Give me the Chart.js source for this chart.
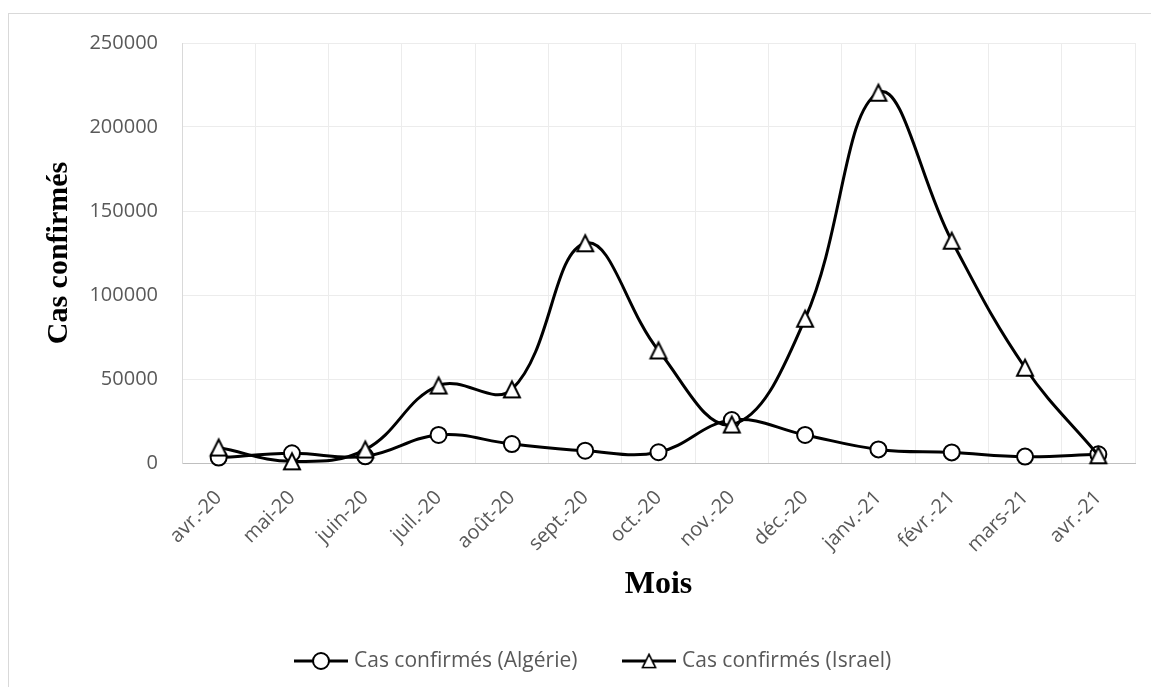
<!DOCTYPE html>
<html>
<head>
<meta charset="utf-8">
<script src="https://cdn.jsdelivr.net/npm/chart.js@4.4.0/dist/chart.umd.min.js"></script>
<style>
  html, body { margin: 0; padding: 0; background: #fff; }
  #wrap { position: relative; width: 1151px; height: 687px; overflow: hidden; }
  #frame { position: absolute; left: 8px; top: 13px; width: 1200px; height: 720px; border: 1px solid #d9d9d9; box-sizing: border-box; }
  #c { position: absolute; left: 0; top: 0; }
</style>
</head>
<body>
<div id="wrap">
  <div id="frame"></div>
  <canvas id="c" width="1151" height="687"></canvas>
</div>
<script>
// Monthly confirmed COVID-19 cases
const months = ['avr.-20', 'mai-20', 'juin-20', 'juil.-20', 'août-20', 'sept.-20', 'oct.-20',
                'nov.-20', 'déc.-20', 'janv.-21', 'févr.-21', 'mars-21', 'avr.-21'];
const algerie = [3200, 5800, 4000, 16700, 11300, 7300, 6400, 25600, 16700, 8100, 6300, 3800, 5200];
const israel  = [9200, 1000, 8000, 46100, 43800, 130800, 67000, 22900, 85900, 220400, 132300, 56700, 4600];
const yTicks  = [0, 50000, 100000, 150000, 200000, 250000];

const seriesNames = ['Cas confirmés (Algérie)', 'Cas confirmés (Israel)'];

const TICK_FONT = { family: 'Open Sans', size: 20 };
const TICK_COLOR = '#595959';
const TITLE_FONT = { family: 'Liberation Serif', weight: 'bold' };

// Open triangle marker (white fill, black outline)
function triangleMarker(size, lw) {
  const c = document.createElement('canvas');
  c.width = size + 4;
  c.height = size + 4;
  const g = c.getContext('2d');
  const m = 2 + lw / 2;
  g.beginPath();
  g.moveTo(c.width / 2, m);
  g.lineTo(c.width - m, c.height - m);
  g.lineTo(m, c.height - m);
  g.closePath();
  g.fillStyle = '#fff';
  g.fill();
  g.lineWidth = lw;
  g.strokeStyle = '#000';
  g.lineJoin = 'miter';
  g.stroke();
  return c;
}
const triangle = triangleMarker(18, 2);

// Legend drawn as line + marker swatches followed by the series name
const seriesKey = {
  id: 'seriesKey',
  afterDraw(chart, args, opts) {
    const ctx = chart.ctx;
    ctx.save();
    opts.entries.forEach(e => {
      const ds = chart.data.datasets[e.dataset];
      const y = opts.y;
      ctx.strokeStyle = ds.borderColor;
      ctx.lineWidth = ds.borderWidth;
      ctx.beginPath();
      ctx.moveTo(e.x, y);
      ctx.lineTo(e.x + opts.lineLength, y);
      ctx.stroke();
      const cx = e.x + opts.lineLength / 2;
      if (ds.pointStyle === 'circle') {
        ctx.beginPath();
        ctx.arc(cx, y, opts.markerRadius, 0, Math.PI * 2);
        ctx.fillStyle = '#fff';
        ctx.fill();
        ctx.lineWidth = 2;
        ctx.stroke();
      } else {
        const img = ds.pointStyle;
        const s = opts.markerRadius * 2 + 2;
        ctx.drawImage(img, cx - s / 2, y - s / 2, s, s);
      }
      ctx.fillStyle = TICK_COLOR;
      ctx.font = `${opts.fontSize}px "${TICK_FONT.family}"`;
      ctx.textBaseline = 'middle';
      ctx.textAlign = 'left';
      ctx.fillText(ds.label, e.x + opts.lineLength + opts.gap, y);
    });
    ctx.restore();
  }
};

const ctx = document.getElementById('c').getContext('2d');
new Chart(ctx, {
  type: 'line',
  data: {
    labels: months,
    datasets: [
      {
        label: seriesNames[0],
        data: algerie,
        borderColor: '#000',
        borderWidth: 3,
        tension: 0.4,
        pointStyle: 'circle',
        pointRadius: 8,
        pointHoverRadius: 8,
        pointBackgroundColor: '#fff',
        pointBorderColor: '#000',
        pointBorderWidth: 2,
        clip: false,
        order: 1
      },
      {
        label: seriesNames[1],
        data: israel,
        borderColor: '#000',
        borderWidth: 3,
        tension: 0.4,
        pointStyle: triangle,
        pointRadius: 9,
        pointHoverRadius: 9,
        pointBackgroundColor: '#fff',
        pointBorderColor: '#000',
        clip: false,
        order: 0
      }
    ]
  },
  options: {
    responsive: false,
    animation: false,
    devicePixelRatio: 1,
    layout: { padding: { top: 43, right: 16, left: 0, bottom: 0 } },
    plugins: {
      legend: { display: false },
      tooltip: { enabled: false },
      seriesKey: {
        y: 661,
        lineLength: 54,
        gap: 6,
        markerRadius: 8,
        fontSize: 21,
        entries: [ { dataset: 0, x: 294 }, { dataset: 1, x: 622 } ]
      }
    },
    scales: {
      x: {
        offset: true,
        grid: { offset: true, color: '#ececec', drawTicks: false },
        border: { color: '#bfbfbf', width: 1 },
        ticks: { color: TICK_COLOR, font: TICK_FONT, minRotation: 45, maxRotation: 45, autoSkip: false, padding: 23 },
        title: {
          display: true, text: 'Mois', color: '#000',
          font: Object.assign({ size: 32 }, TITLE_FONT),
          padding: { top: 0, bottom: 83 }
        },
        afterFit(s) { s.height = 224; }
      },
      y: {
        min: 0,
        max: 250000,
        afterBuildTicks(s) { s.ticks = yTicks.map(v => ({ value: v })); },
        grid: { color: '#ececec', drawTicks: false },
        border: { color: '#d9d9d9', width: 1 },
        ticks: { color: TICK_COLOR, font: TICK_FONT, padding: 24, callback: v => String(v) },
        title: {
          display: true, text: 'Cas confirmés', color: '#000',
          font: Object.assign({ size: 30 }, TITLE_FONT),
          padding: { top: 41, bottom: 0 }
        },
        afterFit(s) { s.width = 182; }
      }
    }
  },
  plugins: [seriesKey]
});
</script>
</body>
</html>
